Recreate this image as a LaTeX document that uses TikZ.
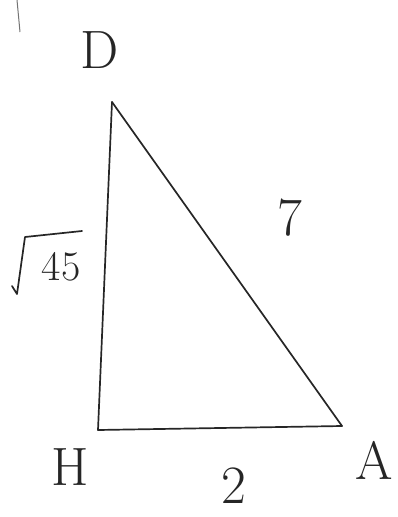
\documentclass[tikz,border=0pt]{standalone}
\usepackage{fontspec}
\begin{document}
\begin{tikzpicture}[x=1pt,y=-1pt,
  edge/.style={line width=1.7pt,black!85,line cap=round,line join=round},
  lab/.style={font=\fontsize{54}{58}\selectfont,text=black!85,inner sep=0pt},
  smalllab/.style={font=\fontsize{42}{46}\selectfont,text=black!85,inner sep=0pt}]
\useasboundingbox (0,0) rectangle (398,517);
% vertices
\coordinate (D) at (112,102);
\coordinate (H) at (98,430);
\coordinate (A) at (342,426);
% triangle sides
\draw[edge] (D) -- (H);
\draw[edge] (H) -- (A);
\draw[edge] (A) -- (D);
% vertex labels
\node[lab] (lD) at (100,50) {D};
\node[lab] (lH) at (70,467) {H};
\node[lab] (lA) at (374,460) {A};
% side labels
\node[lab] (l2) at (234,486) {2};
\node[lab] (l7) at (290,218) {7};
% sqrt 45
\coordinate (r1) at (12,286);
\coordinate (r2) at (17,294);
\coordinate (r3) at (25,237);
\coordinate (r4) at (82,231);
\draw[edge] (r1) -- (r2) -- (r3) -- (r4);
\node[smalllab] (l45) at (61,267) {45};
% stray mark
\coordinate (s1) at (17,0);
\coordinate (s2) at (20,32);
\draw[line width=1pt,black!55] (s1) -- (s2);
\end{tikzpicture}
\end{document}
